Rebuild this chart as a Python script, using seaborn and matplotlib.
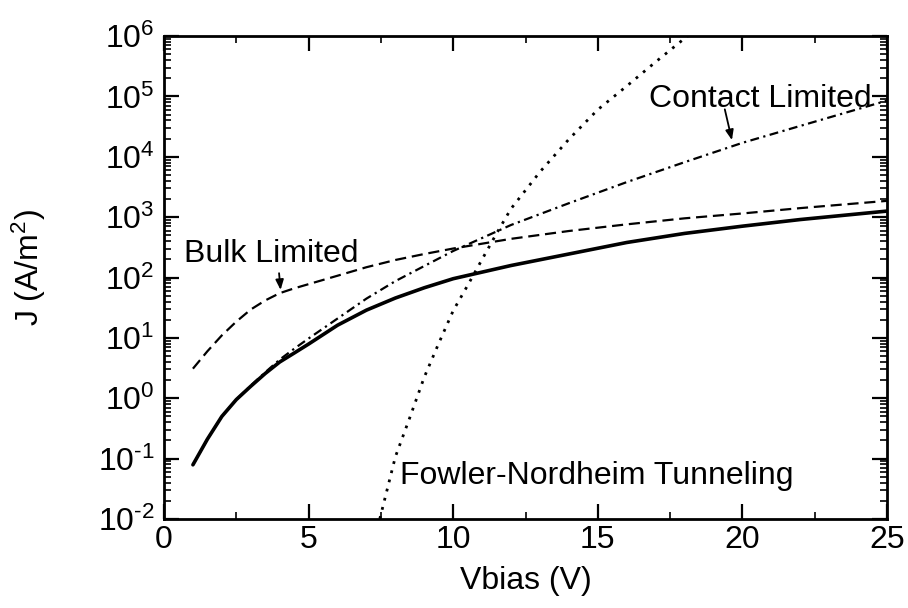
import numpy as np
import pandas as pd
import seaborn as sns
import matplotlib
matplotlib.use("Agg")
import matplotlib.pyplot as plt
from matplotlib.ticker import LogLocator, MultipleLocator, FuncFormatter, NullFormatter

# ---- data ----
v_main = [1, 1.5, 2, 2.5, 3, 3.5, 4, 4.5, 5, 6, 7, 8, 9, 10, 12, 14, 16, 18, 20, 22, 25]
j_total = [0.079, 0.21, 0.50, 0.95, 1.58, 2.57, 3.98, 5.6, 7.9, 16.2, 28.8, 45.7, 67.6, 95.5,
           158, 245, 380, 537, 708, 912, 1259]
j_bulk = [3.09, 6.0, 11.0, 18.6, 29.5, 41.7, 55.0, 66.1, 77.6, 107, 148, 195, 245, 302,
          437, 589, 759, 955, 1150, 1410, 1860]
j_contact = [0.079, 0.21, 0.50, 0.95, 1.62, 2.69, 4.37, 6.6, 9.77, 20.9, 44.7, 87.1, 155, 275,
             741, 1700, 3800, 8130, 17000, 32400, 85100]

v_fn = [7.3, 7.55, 8.0, 8.5, 9.0, 9.5, 10.0, 10.5, 11.0, 11.5, 12.0, 13.0, 14.0, 15.0, 16.0, 17.0, 18.0, 18.5]
j_fn = [0.0050, 0.0148, 0.107, 0.479, 2.24, 8.13, 28.2, 74.1, 200, 537, 1380, 5620, 19500, 60300,
        148000, 372000, 912000, 1.41e6]

x_ticks = [0, 5, 10, 15, 20, 25]
labels = {"bulk": "Bulk Limited", "contact": "Contact Limited", "fn": "Fowler-Nordheim Tunneling"}

sns.set_theme(style="ticks")
plt.rcParams["font.family"] = ["Liberation Sans", "DejaVu Sans"]
plt.rcParams["mathtext.fontset"] = "custom"
plt.rcParams["mathtext.rm"] = "Liberation Sans"
plt.rcParams["mathtext.it"] = "Liberation Sans:italic"
plt.rcParams["mathtext.bf"] = "Liberation Sans:bold"
for k in ["text.color", "axes.labelcolor", "xtick.color", "ytick.color", "axes.edgecolor"]:
    plt.rcParams[k] = "black"

fig = plt.figure(figsize=(9.08, 6.08), dpi=100)
ax = fig.add_axes([164 / 908, 1 - 519 / 608, (887 - 164) / 908, (519 - 36) / 608])

sns.lineplot(x=v_main, y=j_total, ax=ax, color="black", linewidth=2.6, linestyle="-")
sns.lineplot(x=v_main, y=j_bulk, ax=ax, color="black", linewidth=1.6, linestyle=(0, (5, 2.6)))
sns.lineplot(x=v_main, y=j_contact, ax=ax, color="black", linewidth=1.6, linestyle=(0, (4, 2, 1, 2)))
sns.lineplot(x=v_fn, y=j_fn, ax=ax, color="black", linewidth=2.0, linestyle=(0, (1, 2.4)))

ax.set_yscale("log")
ax.set_xlim(0, 25)
ax.set_ylim(1e-2, 1e6)

ax.xaxis.set_minor_locator(MultipleLocator(2.5))
ax.set_xticks(x_ticks)
ax.yaxis.set_major_locator(LogLocator(base=10, numticks=20))
ax.yaxis.set_minor_locator(LogLocator(base=10, subs=np.arange(2, 10), numticks=20))


def fmt(val, pos):
    e = int(round(np.log10(val)))
    if e < 0:
        return r"$\mathdefault{10^{\text{-}%d}}$" % (-e)
    return r"$\mathdefault{10^{%d}}$" % e


ax.yaxis.set_major_formatter(FuncFormatter(fmt))
ax.yaxis.set_minor_formatter(NullFormatter())

ax.tick_params(axis="both", which="major", direction="in", length=11, width=1.6,
               top=True, right=True, labelsize=23, colors="black")
ax.tick_params(axis="both", which="minor", direction="in", length=5, width=1.2,
               top=True, right=True)
ax.tick_params(axis="x", which="major", pad=4)
ax.tick_params(axis="y", which="major", pad=7)
for s in ax.spines.values():
    s.set_linewidth(2.0)
    s.set_color("black")

ax.set_xlabel("Vbias (V)", fontsize=23, labelpad=8)
ax.set_ylabel("J (A/m$^2$)", fontsize=23)
ax.yaxis.set_label_coords(-0.16, 0.52)

ax.text(0.69, 178, labels["bulk"], fontsize=23, ha="left", va="baseline")
ax.annotate("", xy=(4.04, 56), xytext=(3.97, 131),
            arrowprops=dict(arrowstyle="-|>,head_length=0.5,head_width=0.2", color="black", lw=1.3))
ax.text(16.78, 67600, labels["contact"], fontsize=23, ha="left", va="baseline")
ax.annotate("", xy=(19.66, 17000), xytext=(19.37, 67600),
            arrowprops=dict(arrowstyle="-|>,head_length=0.5,head_width=0.2", color="black", lw=1.3))
ax.text(8.15, 10 ** -1.42, labels["fn"], fontsize=23, ha="left", va="baseline")

fig.savefig("out.png", dpi=100, facecolor="white")
